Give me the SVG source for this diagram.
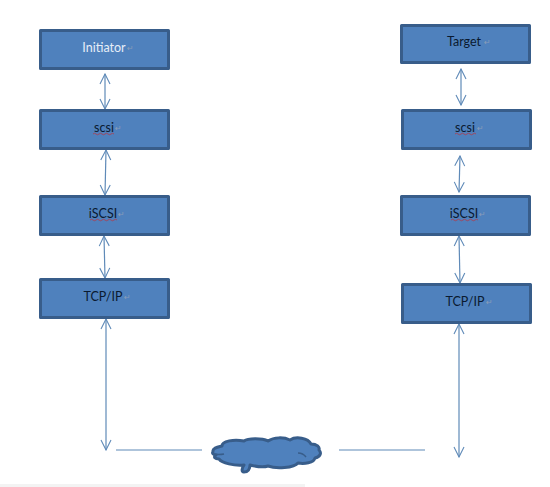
<svg xmlns="http://www.w3.org/2000/svg" width="550" height="487" viewBox="0 0 550 487">
<style>
.box{fill:#4f81bd;stroke:#385d8a;stroke-width:3;stroke-linejoin:round}
.t{font-family:"Lato","Liberation Sans",sans-serif;font-size:12.5px;text-anchor:middle;fill:#0a1a30}
.w{fill:#e6eef8}
.r{font-family:"DejaVu Sans",sans-serif;font-size:8px;fill:#8a9db8}
.sq{fill:none;stroke:#b23a48;stroke-width:.8}
.c{fill:none;stroke:#5f8ab8;stroke-width:1.2}
.a{marker-start:url(#ah);marker-end:url(#ah)}
</style>
<defs>
<marker id="ah" viewBox="0 0 12 12" refX="11" refY="6" markerWidth="12" markerHeight="12" markerUnits="userSpaceOnUse" orient="auto-start-reverse">
<path d="M1 1L11 6L1 11" fill="none" stroke="#5f8ab8" stroke-width="1.1"/>
</marker>
</defs>
<rect x="0" y="484" width="305" height="3" fill="#f3f3f3"/>
<g id="connectors">
<path class="c a" d="M105 74L105 109"/>
<path class="c a" d="M106 150L105 195"/>
<path class="c a" d="M104 236L105 278"/>
<path class="c a" d="M106 319L106 450"/>
<path class="c a" d="M461 69L461 105"/>
<path class="c a" d="M460 156L459 192"/>
<path class="c a" d="M459 236L460 283"/>
<path class="c a" d="M459 324L459 457"/>
<path class="c" d="M116 450L202 450"/>
<path class="c" d="M339 450L425 450"/>
</g>
<g id="initiator"><rect class="box" x="40.500" y="30.500" width="128" height="38"/><text class="t w" x="104" y="52">Initiator</text><text class="r" x="127" y="51">↵</text></g>
<g id="scsi-left"><rect class="box" x="40.500" y="110.500" width="128" height="38"/><text class="t" x="104" y="132">scsi</text><text class="r" x="115" y="131">↵</text><path class="sq" d="M93 134q1.500-1.500 3 0t3 0t3 0t3 0t3 0t3 0t3 0"/></g>
<g id="iscsi-left"><rect class="box" x="40.500" y="196.500" width="128" height="38"/><text class="t" x="103" y="218">iSCSI</text><text class="r" x="118" y="217">↵</text><path class="sq" d="M90 220q1.500-1.500 3 0t3 0t3 0t3 0t3 0t3 0t3 0t3 0t3 0"/></g>
<g id="tcpip-left"><rect class="box" x="40.500" y="279.500" width="128" height="38"/><text class="t" x="103" y="301">TCP/IP</text><text class="r" x="124" y="300">↵</text></g>
<g id="target"><rect class="box" x="401.500" y="25.500" width="128" height="37"/><text class="t" x="464" y="46">Target</text><text class="r" x="484" y="45">↵</text></g>
<g id="scsi-right"><rect class="box" x="402.500" y="110.500" width="128" height="38"/><text class="t" x="465" y="132">scsi</text><text class="r" x="477" y="131">↵</text><path class="sq" d="M455 134q1.500-1.500 3 0t3 0t3 0t3 0t3 0t3 0t3 0"/></g>
<g id="iscsi-right"><rect class="box" x="401.500" y="196.500" width="128" height="38"/><text class="t" x="464" y="218">iSCSI</text><text class="r" x="479" y="217">↵</text><path class="sq" d="M451 220q1.500-1.500 3 0t3 0t3 0t3 0t3 0t3 0t3 0t3 0t3 0"/></g>
<g id="tcpip-right"><rect class="box" x="402.500" y="284.500" width="128" height="38"/><text class="t" x="465" y="306">TCP/IP</text><text class="r" x="486" y="305">↵</text></g>
<g id="cloud">
<path d="M213 452C212 448 218 447 222 446C222 441 234 439 244 441C248 438 262 438 268 441C274 437 284 437 290 440C296 436 308 438 311 444C317 444 320 447 319 450C322 453 320 457 315 458C314 463 304 464 298 463C294 468 276 469 268 466C262 468 254 466 250 465C250 469 248 472 244 472C241 472 242 468 244 465C234 466 222 463 219 459C215 459 213 457 216 455C213 455 212 453 213 452Z" fill="#4f81bd" stroke="#385d8a" stroke-width="3" stroke-linejoin="round"/>
<path d="M214 454Q219 455 224 454M298 453Q303 453 306 457" fill="none" stroke="#385d8a" stroke-width="1.500"/>
</g>
</svg>
